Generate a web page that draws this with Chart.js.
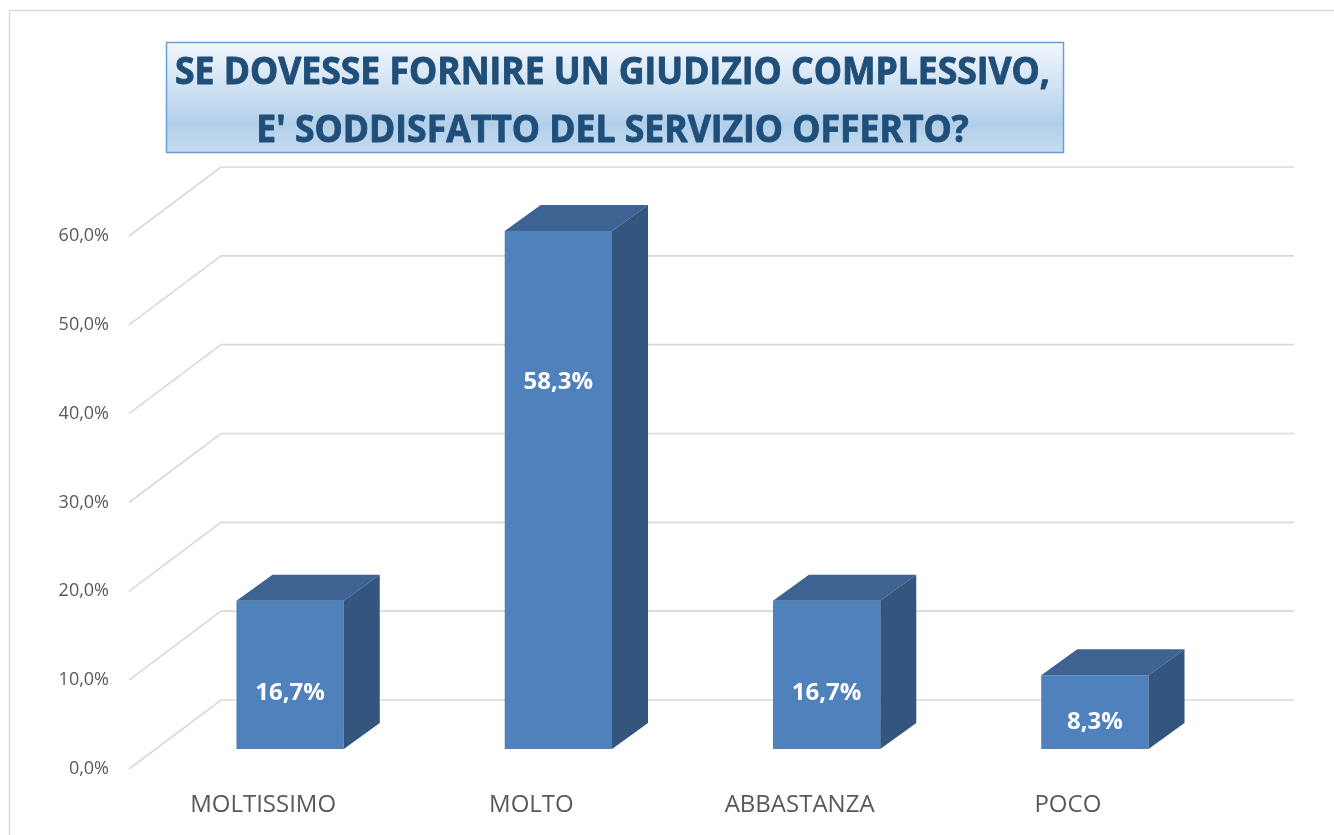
<!DOCTYPE html>
<html>
<head>
<meta charset="utf-8">
<script src="https://cdn.jsdelivr.net/npm/chart.js@4.4.1/dist/chart.umd.min.js"></script>
<style>
html,body{margin:0;padding:0;background:#ffffff;overflow:hidden}
#wrap{position:relative;width:1334px;height:835px}
</style>
</head>
<body>
<div id="wrap"><canvas id="c" width="1334" height="835"></canvas></div>
<script>
// ---- data ----
const titleLines = ["SE DOVESSE FORNIRE UN GIUDIZIO COMPLESSIVO,", "E' SODDISFATTO DEL SERVIZIO OFFERTO?"];
const categories = ["MOLTISSIMO", "MOLTO", "ABBASTANZA", "POCO"];
const values = [16.7, 58.3, 16.7, 8.3];
const yTicks = [0, 10, 20, 30, 40, 50, 60];

const fmt = v => v.toFixed(1).replace('.', ',') + '%';

// ---- 3D look plugins ----
const GEO = { frontX: -27, frontY: 20, backX: 65, backY: -49, depthX: 36, depthY: -26 };

const framePlugin = {
  id: 'frame',
  beforeDraw(chart) {
    const ctx = chart.ctx;
    ctx.save();
    ctx.fillStyle = '#ffffff';
    ctx.fillRect(0, 0, chart.width, chart.height);
    // outer chart border
    ctx.strokeStyle = '#D9D9D9';
    ctx.lineWidth = 1.5;
    ctx.beginPath();
    ctx.moveTo(9.5, chart.height + 2);
    ctx.lineTo(9.5, 10.5);
    ctx.lineTo(chart.width + 2, 10.5);
    ctx.stroke();
    // title box
    const bx = 166, by = 42, bw = 897, bh = 110;
    const g = ctx.createLinearGradient(0, by, 0, by + bh);
    g.addColorStop(0, '#F4F8FD');
    g.addColorStop(0.75, '#B1CFEA');
    g.addColorStop(1, '#C6DCF0');
    ctx.fillStyle = g;
    ctx.fillRect(bx, by, bw, bh);
    ctx.strokeStyle = '#6A9FD8';
    ctx.lineWidth = 1.5;
    ctx.strokeRect(bx + 0.5, by + 0.5, bw, bh);
    // title text
    ctx.font = 'bold 37px "Open Sans"';
    ctx.fillStyle = '#1F4E79';
    ctx.strokeStyle = '#1F4E79';
    ctx.lineWidth = 0.9;
    ctx.lineJoin = 'round';
    ctx.textAlign = 'center';
    ctx.textBaseline = 'alphabetic';
    const sx = 875 / ctx.measureText(titleLines[0]).width;
    const baselines = [84, 142];
    titleLines.forEach((t, i) => {
      ctx.save();
      ctx.translate(612.5, baselines[i]);
      ctx.scale(sx, 1);
      ctx.fillText(t, 0, 0);
      ctx.strokeText(t, 0, 0);
      ctx.restore();
    });
    ctx.restore();
  },
  beforeDatasetsDraw(chart) {
    const ctx = chart.ctx, ys = chart.scales.y, a = chart.chartArea;
    ctx.save();
    ctx.strokeStyle = '#D9D9D9';
    ctx.lineWidth = 1.6;
    yTicks.forEach(v => {
      const py = ys.getPixelForValue(v);
      ctx.beginPath();
      ctx.moveTo(a.left + GEO.frontX, py + GEO.frontY);
      ctx.lineTo(a.left + GEO.backX, py + GEO.backY);
      ctx.lineTo(a.right + GEO.backX, py + GEO.backY);
      ctx.stroke();
    });
    ctx.restore();
  }
};

const box3dPlugin = {
  id: 'box3d',
  afterDatasetsDraw(chart, args, opts) {
    const ctx = chart.ctx, ys = chart.scales.y;
    const meta = chart.getDatasetMeta(0);
    ctx.save();
    meta.data.forEach((bar, i) => {
      const p = bar.getProps(['x', 'y', 'base', 'width'], true);
      const l = p.x - p.width / 2, r = p.x + p.width / 2;
      const dx = GEO.depthX, dy = GEO.depthY;
      // top face
      ctx.fillStyle = opts.topColor;
      ctx.beginPath();
      ctx.moveTo(l, p.y);
      ctx.lineTo(l + dx, p.y + dy);
      ctx.lineTo(r + dx, p.y + dy);
      ctx.lineTo(r, p.y);
      ctx.closePath();
      ctx.fill();
      // side face
      ctx.fillStyle = opts.sideColor;
      ctx.beginPath();
      ctx.moveTo(r, p.y);
      ctx.lineTo(r + dx, p.y + dy);
      ctx.lineTo(r + dx, p.base + dy);
      ctx.lineTo(r, p.base);
      ctx.closePath();
      ctx.fill();
      // value label
      const v = values[i];
      const ly = ys.getPixelForValue(v * opts.labelRise[i]);
      ctx.fillStyle = '#ffffff';
      ctx.font = 'bold 24px "Open Sans"';
      ctx.textAlign = 'center';
      ctx.textBaseline = 'middle';
      ctx.fillText(fmt(v), p.x, ly);
    });
    ctx.restore();
  }
};

new Chart(document.getElementById('c'), {
  type: 'bar',
  data: {
    labels: categories,
    datasets: [{
      data: values,
      backgroundColor: '#4F81BD',
      borderWidth: 0,
      categoryPercentage: 1.0,
      barPercentage: 0.4
    }]
  },
  options: {
    responsive: false,
    animation: false,
    devicePixelRatio: 1,
    layout: { padding: { top: 216, right: 105, bottom: 0, left: 0 } },
    plugins: {
      legend: { display: false },
      tooltip: { enabled: false },
      title: { display: false },
      box3d: { topColor: '#3C6391', sideColor: '#33557E', labelRise: [0.377, 0.709, 0.377, 0.366] }
    },
    scales: {
      x: {
        grid: { display: false, drawTicks: false },
        border: { display: false },
        ticks: {
          color: '#595959',
          font: { family: 'Open Sans', size: 24 },
          padding: 42,
          labelOffset: -27,
          maxRotation: 0,
          autoSkip: false
        },
        afterFit(s) { s.height = 86; }
      },
      y: {
        min: 0,
        max: 60,
        grid: { display: false, drawTicks: false },
        border: { display: false },
        afterBuildTicks(s) { s.ticks = yTicks.map(v => ({ value: v })); },
        ticks: {
          color: '#595959',
          font: { family: 'Open Sans', size: 18 },
          padding: 47,
          labelOffset: 20,
          callback: v => fmt(v)
        },
        afterFit(s) { s.width = 156; }
      }
    }
  },
  plugins: [framePlugin, box3dPlugin]
});
</script>
</body>
</html>
